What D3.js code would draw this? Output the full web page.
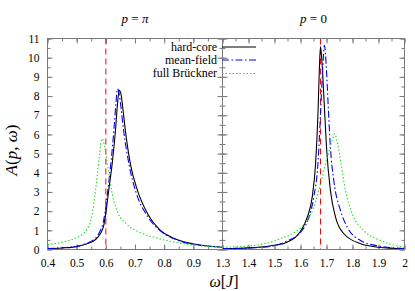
<!DOCTYPE html>
<html><head><meta charset="utf-8">
<script src="https://cdn.jsdelivr.net/npm/d3@7"></script>
<style>
body{margin:0;background:#fff}
svg{display:block}
svg text{font-family:"Liberation Serif","DejaVu Serif","Times New Roman",serif !important;fill:#000}
</style>
</head><body><svg id="c" width="415" height="291"></svg>
<script>
// ---------- data ----------
const panelTitles = [["p", " = ", "π"], ["p", " = ", "0"]];
const seriesNames = ["hard-core", "mean-field", "full Brückner"];
const yTickLabels = ["0","1","2","3","4","5","6","7","8","9","10","11"];
const yTickValues = [0,1,2,3,4,5,6,7,8,9,10,11];
const xTicksLeft = [0.4, 0.5, 0.6, 0.7, 0.8, 0.9];
const xTickLabelsLeft = ["0.4","0.5","0.6","0.7","0.8","0.9"];
const xTicksRight = [1.3, 1.4, 1.5, 1.6, 1.7, 1.8, 1.9, 2.0];
const xTickLabelsRight = ["1.3","1.4","1.5","1.6","1.7","1.8","1.9","2"];
const domainLeft = [0.4, 1.0];
const domainRight = [1.3, 2.0];
const resonances = [0.6, 1.677];

// p = pi panel  [omega, A]
const hardCorePi = [[0.40,0.05],[0.45,0.08],[0.50,0.15],[0.53,0.27],[0.565,0.52],[0.582,0.85],[0.592,1.2],[0.600,1.9],[0.610,3.1],[0.622,4.5],[0.633,6.2],[0.640,7.6],[0.646,8.3],[0.652,8.1],[0.658,7.4],[0.667,6.2],[0.685,4.4],[0.707,3.15],[0.742,1.9],[0.787,1.0],[0.83,0.6],[0.867,0.4],[0.93,0.22],[1.0,0.12]];
const meanFieldPi = [[0.40,0.05],[0.45,0.09],[0.50,0.17],[0.53,0.3],[0.565,0.6],[0.580,0.95],[0.590,1.35],[0.598,2.0],[0.607,3.1],[0.618,4.6],[0.628,6.3],[0.635,7.7],[0.640,8.38],[0.646,8.1],[0.652,7.4],[0.661,6.2],[0.680,4.4],[0.703,3.0],[0.740,1.8],[0.787,0.97],[0.83,0.58],[0.867,0.38],[0.93,0.21],[1.0,0.12]];
const brucknerPi = [[0.40,0.26],[0.44,0.35],[0.473,0.47],[0.50,0.62],[0.519,0.78],[0.535,1.05],[0.548,1.5],[0.559,2.4],[0.570,3.8],[0.578,4.9],[0.587,5.77],[0.594,5.5],[0.602,4.8],[0.610,4.0],[0.622,2.9],[0.639,2.0],[0.673,1.3],[0.719,0.88],[0.787,0.55],[0.867,0.3],[0.93,0.19],[1.0,0.12]];

// p = 0 panel
const hardCore0 = [[1.30,0.04],[1.42,0.1],[1.50,0.22],[1.549,0.38],[1.600,0.95],[1.626,1.68],[1.645,2.73],[1.658,4.47],[1.667,7.0],[1.673,9.6],[1.677,10.58],[1.683,9.68],[1.690,7.94],[1.700,5.33],[1.715,3.08],[1.735,1.68],[1.767,0.82],[1.831,0.3],[1.90,0.12],[2.0,0.04]];
const meanField0 = [[1.30,0.04],[1.42,0.09],[1.50,0.2],[1.549,0.45],[1.600,0.9],[1.632,1.68],[1.651,2.73],[1.667,4.47],[1.677,7.07],[1.685,9.33],[1.692,10.64],[1.700,9.33],[1.705,7.94],[1.715,5.33],[1.728,3.6],[1.754,2.03],[1.780,1.16],[1.831,0.47],[1.90,0.18],[2.0,0.05]];
const bruckner0 = [[1.30,0.12],[1.42,0.21],[1.523,0.56],[1.587,0.99],[1.626,1.51],[1.651,2.2],[1.677,3.43],[1.703,4.81],[1.722,5.68],[1.731,6.03],[1.743,5.51],[1.756,4.47],[1.773,3.08],[1.799,1.86],[1.843,0.99],[1.908,0.47],[2.0,0.12]];

// ---------- layout ----------
const FONT = '"Liberation Serif","DejaVu Serif","Times New Roman",serif';
const plotTop = 38.5, plotBottom = 249.5, xL0 = 47.5, xMid = 222.5, xR1 = 404.5;
const svg = d3.select("#c");
const frameColor = "#7a7a7a";

const y = d3.scaleLinear().domain([0, 11]).range([plotBottom, plotTop]);
const xL = d3.scaleLinear().domain(domainLeft).range([xL0, xMid]);
const xR = d3.scaleLinear().domain(domainRight).range([xMid, xR1]);

const styles = [
  {stroke:"#000000", width:1.1, dash:null},
  {stroke:"#0000ff", width:1.1, dash:"7,2.5,1.5,2.5"},
  {stroke:"#1fe01f", width:1.1, dash:"1.5,2"}
];

function panel(x, series, resonance, clipId, titleParts, xTicks, xLabels, showYLabels) {
  const [x0, x1] = x.range();
  svg.append("clipPath").attr("id", clipId).append("rect")
    .attr("x", x0).attr("y", plotTop).attr("width", x1 - x0).attr("height", plotBottom - plotTop);
  const g = svg.append("g");
  const d = x.domain();
  const minorX = d3.range(Math.round(d[0]*20), Math.round(d[1]*20)+1).map(v => v/20);
  const minorY = d3.range(0, 23).map(v => v/2);
  const axStyle = sel => { sel.attr("font-family", FONT); sel.select(".domain").remove(); sel.selectAll("line").attr("stroke", frameColor); };
  g.append("g").attr("transform", `translate(0,${plotBottom})`)
    .call(d3.axisBottom(x).tickValues(minorX).tickSize(-3).tickFormat("")).call(axStyle);
  g.append("g").attr("transform", `translate(0,${plotTop})`)
    .call(d3.axisTop(x).tickValues(minorX).tickSize(-3).tickFormat("")).call(axStyle);
  g.append("g").attr("transform", `translate(0,${plotBottom})`)
    .call(d3.axisBottom(x).tickValues(xTicks).tickSize(-5).tickPadding(9)
      .tickFormat((v,i) => xLabels[i])).call(axStyle)
    .selectAll("text").attr("font-size", 11.5).attr("font-family", FONT).attr("fill","#000");
  g.append("g").attr("transform", `translate(0,${plotTop})`)
    .call(d3.axisTop(x).tickValues(xTicks).tickSize(-5).tickFormat("")).call(axStyle);
  g.append("g").attr("transform", `translate(${x0},0)`)
    .call(d3.axisLeft(y).tickValues(minorY).tickSize(-3).tickFormat("")).call(axStyle);
  g.append("g").attr("transform", `translate(${x1},0)`)
    .call(d3.axisRight(y).tickValues(minorY).tickSize(-3).tickFormat("")).call(axStyle);
  const yl = g.append("g").attr("transform", `translate(${x0},0)`)
    .call(d3.axisLeft(y).tickValues(yTickValues).tickSize(-5).tickPadding(8)
      .tickFormat((v,i) => showYLabels ? yTickLabels[i] : "")).call(axStyle);
  yl.selectAll("text").attr("font-size", 11.5).attr("font-family", FONT).attr("fill","#000");
  g.append("g").attr("transform", `translate(${x1},0)`)
    .call(d3.axisRight(y).tickValues(yTickValues).tickSize(-5).tickFormat("")).call(axStyle);

  g.append("line").attr("x1", x(resonance)).attr("x2", x(resonance))
    .attr("y1", plotTop).attr("y2", plotBottom)
    .attr("stroke", "#ff0000").attr("stroke-width", 1).attr("stroke-dasharray", "6,4");

  const line = d3.line().x(p => x(p[0])).y(p => y(p[1])).curve(d3.curveMonotoneX);
  const cg = g.append("g").attr("clip-path", `url(#${clipId})`);
  series.forEach((s, i) => {
    cg.append("path").datum(s).attr("d", line).attr("fill", "none")
      .attr("stroke", styles[i].stroke).attr("stroke-width", styles[i].width)
      .attr("stroke-dasharray", styles[i].dash);
  });

  g.append("rect").attr("x", x0).attr("y", plotTop).attr("width", x1 - x0).attr("height", plotBottom - plotTop)
    .attr("fill", "none").attr("stroke", frameColor).attr("stroke-width", 1);

  const t = svg.append("text").attr("x", (x0 + x1) / 2).attr("y", 23)
    .attr("text-anchor", "middle").attr("font-size", 13).attr("font-family", FONT);
  t.append("tspan").attr("font-style", "italic").text(titleParts[0]);
  t.append("tspan").text(titleParts[1]);
  t.append("tspan").attr("font-style", titleParts[2] === "π" ? "italic" : "normal").text(titleParts[2]);
}

panel(xL, [hardCorePi, meanFieldPi, brucknerPi], resonances[0], "clipL", panelTitles[0], xTicksLeft, xTickLabelsLeft, true);
panel(xR, [hardCore0, meanField0, bruckner0], resonances[1], "clipR", panelTitles[1], xTicksRight, xTickLabelsRight, false);

const legY = [47, 60, 73.5];
seriesNames.forEach((n, i) => {
  svg.append("text").attr("x", 217).attr("y", legY[i]).attr("dy", "0.32em")
    .attr("text-anchor", "end").attr("font-size", 12).attr("font-family", FONT).text(n);
  svg.append("line").attr("x1", 222).attr("x2", 256).attr("y1", legY[i]).attr("y2", legY[i])
    .attr("stroke", styles[i].stroke).attr("stroke-width", styles[i].width)
    .attr("stroke-dasharray", styles[i].dash);
});

const yt = svg.append("text").attr("transform", `translate(17,150) rotate(-90)`)
  .attr("text-anchor", "middle").attr("font-size", 17).attr("font-family", FONT);
yt.append("tspan").attr("font-style", "italic").text("A");
yt.append("tspan").text("(");
yt.append("tspan").attr("font-style", "italic").text("p");
yt.append("tspan").text(", ");
yt.append("tspan").attr("font-style", "italic").text("ω");
yt.append("tspan").text(")");

const xt = svg.append("text").attr("x", 224).attr("y", 287)
  .attr("text-anchor", "middle").attr("font-size", 16).attr("font-family", FONT);
xt.append("tspan").attr("font-style", "italic").text("ω");
xt.append("tspan").text("[");
xt.append("tspan").attr("font-style", "italic").text("J");
xt.append("tspan").text("]");
</script>
</body></html>
